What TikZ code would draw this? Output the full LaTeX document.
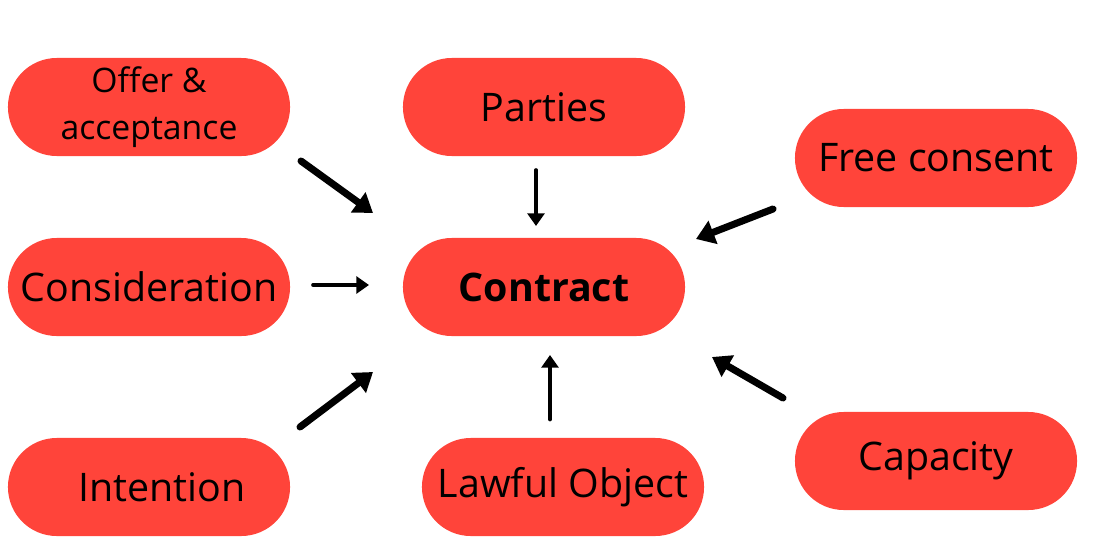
\documentclass[tikz,border=0pt]{standalone}
\usepackage{fontspec}
\setmainfont{Open Sans}
\usetikzlibrary{arrows.meta}
\definecolor{boxred}{RGB}{255,68,58}

\begin{document}
\begin{tikzpicture}[
        x=0.025cm, y=-0.025cm,
        term/.style={rectangle, fill=boxred, minimum width=7.05cm, minimum height=2.45cm, rounded corners=1.22cm, align=center, font=\fontsize{28}{32}\selectfont},
        arrow/.style={-{Triangle[length=13pt, width=17pt]}, line width=5pt, line cap=round},
        thinarrow/.style={-{Triangle[length=9pt, width=12pt]}, line width=2.6pt, line cap=round}
    ]
        \useasboundingbox (0,0) rectangle (1096,545);

        % Centre
        \node[term, font=\fontsize{28}{32}\selectfont\bfseries] (contract) at (544,287) {Contract};

        % Left column
        \node[term, font=\fontsize{24}{33}\selectfont] (offer) at (149,107) {\rule{0pt}{8pt}Offer \&\\acceptance};
        \node[term] (consid) at (149,287) {Consideration};
        \node[term] (intent) at (149,487) {\hspace*{18pt}Intention};

        % Middle column
        \node[term] (parties) at (544,107) {Parties};
        \node[term] (lawful) at (563,487) {Lawful Object};

        % Right column
        \node[term] (consent) at (936,158) {Free consent};
        \node[term] (capacity) at (936,461) {Capacity};

        % Arrow ends
        \coordinate (offer-t) at (301,161);
        \coordinate (offer-h) at (373,213);
        \coordinate (consid-t) at (313,285);
        \coordinate (consid-h) at (369,285);
        \coordinate (intent-t) at (300,427);
        \coordinate (intent-h) at (373,372);
        \coordinate (parties-t) at (536,170);
        \coordinate (parties-h) at (536,226);
        \coordinate (lawful-t) at (550,419);
        \coordinate (lawful-h) at (550,355);
        \coordinate (consent-t) at (773,209);
        \coordinate (consent-h) at (696,239);
        \coordinate (capacity-t) at (783,398);
        \coordinate (capacity-h) at (712,357);

        % Arrows
        \draw[arrow] (offer-t) -- (offer-h);
        \draw[thinarrow] (consid-t) -- (consid-h);
        \draw[arrow] (intent-t) -- (intent-h);
        \draw[thinarrow] (parties-t) -- (parties-h);
        \draw[thinarrow, line width=3.4pt] (lawful-t) -- (lawful-h);
        \draw[arrow] (consent-t) -- (consent-h);
        \draw[arrow] (capacity-t) -- (capacity-h);
    \end{tikzpicture}
\end{document}
